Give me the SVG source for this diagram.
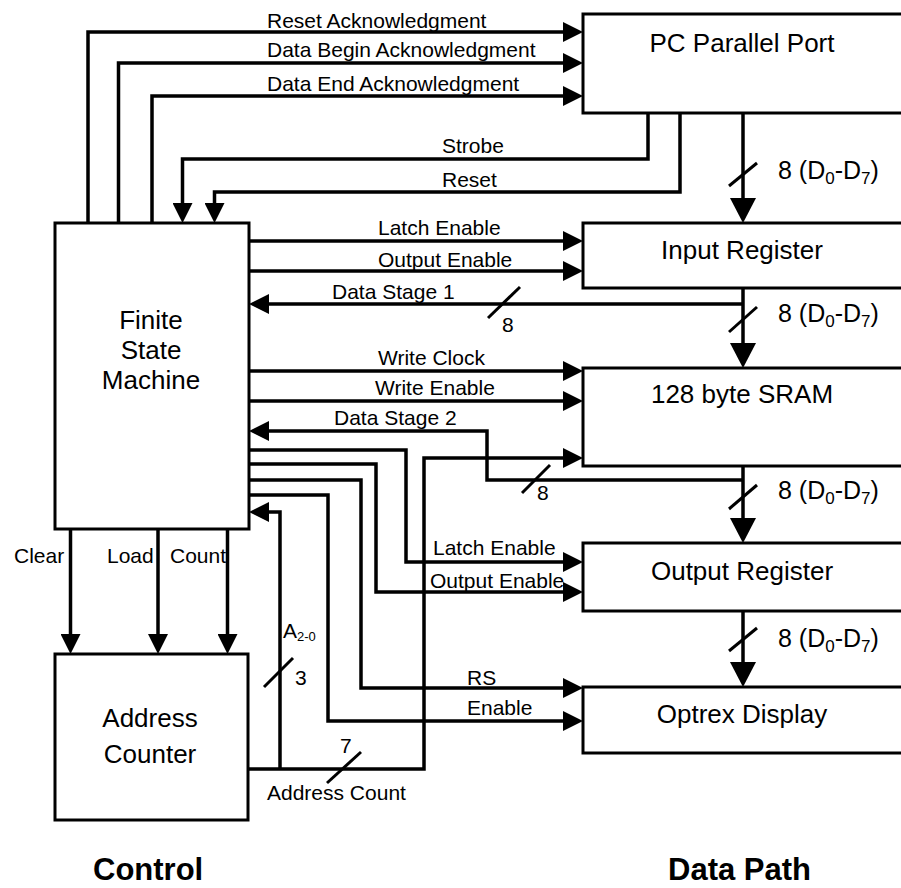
<svg xmlns="http://www.w3.org/2000/svg" width="901" height="888" viewBox="0 0 901 888">
<style>
.box{fill:#fff;stroke:#000;stroke-width:3}
.c{fill:none;stroke:#000;stroke-width:3.5;stroke-linejoin:miter}
.s{stroke:#000;stroke-width:3}
.a{marker-end:url(#ah)}
.b{marker-end:url(#bh)}
text{font-family:"Liberation Sans",Arial,sans-serif;fill:#000}
.lbl{font-size:21px}
.big{font-size:26px;text-anchor:middle}
.bus{font-size:25px}
.sub{font-size:17px}
.hd{font-size:31px;font-weight:bold}
</style>
<defs>
<marker id="ah" markerUnits="userSpaceOnUse" viewBox="0 -10 20 20" refX="0" refY="0" markerWidth="20" markerHeight="20" orient="auto"><path d="M0,-10 L20,0 L0,10 z" fill="#000"/></marker>
<marker id="bh" markerUnits="userSpaceOnUse" viewBox="0 -13 25 26" refX="0" refY="0" markerWidth="25" markerHeight="26" orient="auto"><path d="M0,-13 L25,0 L0,13 z" fill="#000"/></marker>
</defs>

<g id="pc-port"><rect class="box" x="583" y="14" width="330" height="99"/><text class="big" x="742" y="52">PC Parallel Port</text></g>
<g id="input-register"><rect class="box" x="583" y="223" width="330" height="65"/><text class="big" x="742" y="259">Input Register</text></g>
<g id="sram"><rect class="box" x="583" y="368" width="330" height="98"/><text class="big" x="742" y="403">128 byte SRAM</text></g>
<g id="output-register"><rect class="box" x="583" y="543" width="330" height="68"/><text class="big" x="742" y="580">Output Register</text></g>
<g id="optrex-display"><rect class="box" x="583" y="687" width="330" height="66"/><text class="big" x="742" y="723">Optrex Display</text></g>
<g id="fsm"><rect class="box" x="55" y="223" width="194" height="306"/><text class="big" x="151" y="329">Finite</text><text class="big" x="151" y="359">State</text><text class="big" x="151" y="389">Machine</text></g>
<g id="address-counter"><rect class="box" x="55" y="654" width="193" height="166"/><text class="big" x="150" y="727">Address</text><text class="big" x="150" y="763">Counter</text></g>

<g id="connectors">
<path class="c a" d="M88,223 V32 H563"/>
<path class="c a" d="M118.5,223 V63 H563"/>
<path class="c a" d="M152,223 V96 H563"/>
<path class="c a" d="M648,113 V159 H182.5 V203"/>
<path class="c a" d="M680,113 V192 H214.5 V203"/>
<path class="c a" d="M249,241 H563"/>
<path class="c a" d="M249,271 H563"/>
<path class="c a" d="M743,304 H269"/>
<path class="c a" d="M249,371 H563"/>
<path class="c a" d="M249,401 H563"/>
<path class="c a" d="M743,480 H487 V431 H269"/>
<path class="c a" d="M248,769 H424 V458 H563"/>
<path class="c a" d="M280,769 V512 H269"/>
<path class="c a" d="M249,450 H406 V562 H563"/>
<path class="c a" d="M249,464 H376 V592 H563"/>
<path class="c a" d="M249,480 H361 V688 H563"/>
<path class="c a" d="M249,495 H328 V721 H563"/>
<path class="c a" d="M70.5,529 V634"/>
<path class="c a" d="M158,529 V634"/>
<path class="c a" d="M227.5,529 V634"/>
<path class="c b" d="M743,113 V198"/>
<path class="c b" d="M743,288 V343"/>
<path class="c b" d="M743,466 V518"/>
<path class="c b" d="M743,611 V662"/>
<line class="s" x1="729" y1="186" x2="757" y2="163"/>
<line class="s" x1="729" y1="332" x2="757" y2="307"/>
<line class="s" x1="729" y1="509" x2="757" y2="485"/>
<line class="s" x1="729" y1="651" x2="757" y2="628"/>
<line class="s" x1="488" y1="318" x2="520" y2="287"/>
<line class="s" x1="522" y1="493" x2="550" y2="465"/>
<line class="s" x1="264" y1="687" x2="293" y2="658"/>
<line class="s" x1="327" y1="783" x2="361" y2="752"/>

<text class="lbl" x="267" y="28">Reset Acknowledgment</text>
<text class="lbl" x="267" y="57">Data Begin Acknowledgment</text>
<text class="lbl" x="267" y="91">Data End Acknowledgment</text>
<text class="lbl" x="442" y="153">Strobe</text>
<text class="lbl" x="442" y="187">Reset</text>
<text class="lbl" x="378" y="235">Latch Enable</text>
<text class="lbl" x="378" y="267">Output Enable</text>
<text class="lbl" x="332" y="299">Data Stage 1</text>
<text class="lbl" x="502" y="332">8</text>
<text class="lbl" x="378" y="365">Write Clock</text>
<text class="lbl" x="375" y="395">Write Enable</text>
<text class="lbl" x="334" y="425">Data Stage 2</text>
<text class="lbl" x="537" y="500">8</text>
<text class="lbl" x="433" y="555">Latch Enable</text>
<text class="lbl" x="430" y="588">Output Enable</text>
<text class="lbl" x="467" y="685">RS</text>
<text class="lbl" x="467" y="715">Enable</text>
<text class="lbl" x="14" y="563">Clear</text>
<text class="lbl" x="107" y="563">Load</text>
<text class="lbl" x="170" y="563">Count</text>
<text class="lbl" x="283" y="638">A</text><text x="297" y="641" font-size="13">2-0</text>
<text class="lbl" x="295" y="685">3</text>
<text class="lbl" x="340" y="753">7</text>
<text class="lbl" x="267" y="800">Address Count</text>
<text class="bus" x="778" y="179">8 (D<tspan class="sub" dy="5">0</tspan><tspan dy="-5">-D</tspan><tspan class="sub" dy="5">7</tspan><tspan dy="-5">)</tspan></text>
<text class="bus" x="778" y="322">8 (D<tspan class="sub" dy="5">0</tspan><tspan dy="-5">-D</tspan><tspan class="sub" dy="5">7</tspan><tspan dy="-5">)</tspan></text>
<text class="bus" x="778" y="499">8 (D<tspan class="sub" dy="5">0</tspan><tspan dy="-5">-D</tspan><tspan class="sub" dy="5">7</tspan><tspan dy="-5">)</tspan></text>
<text class="bus" x="778" y="647">8 (D<tspan class="sub" dy="5">0</tspan><tspan dy="-5">-D</tspan><tspan class="sub" dy="5">7</tspan><tspan dy="-5">)</tspan></text>
</g>

<g id="section-labels">
<text class="hd" x="93" y="880">Control</text>
<text class="hd" x="668" y="880">Data Path</text>
</g>
</svg>
